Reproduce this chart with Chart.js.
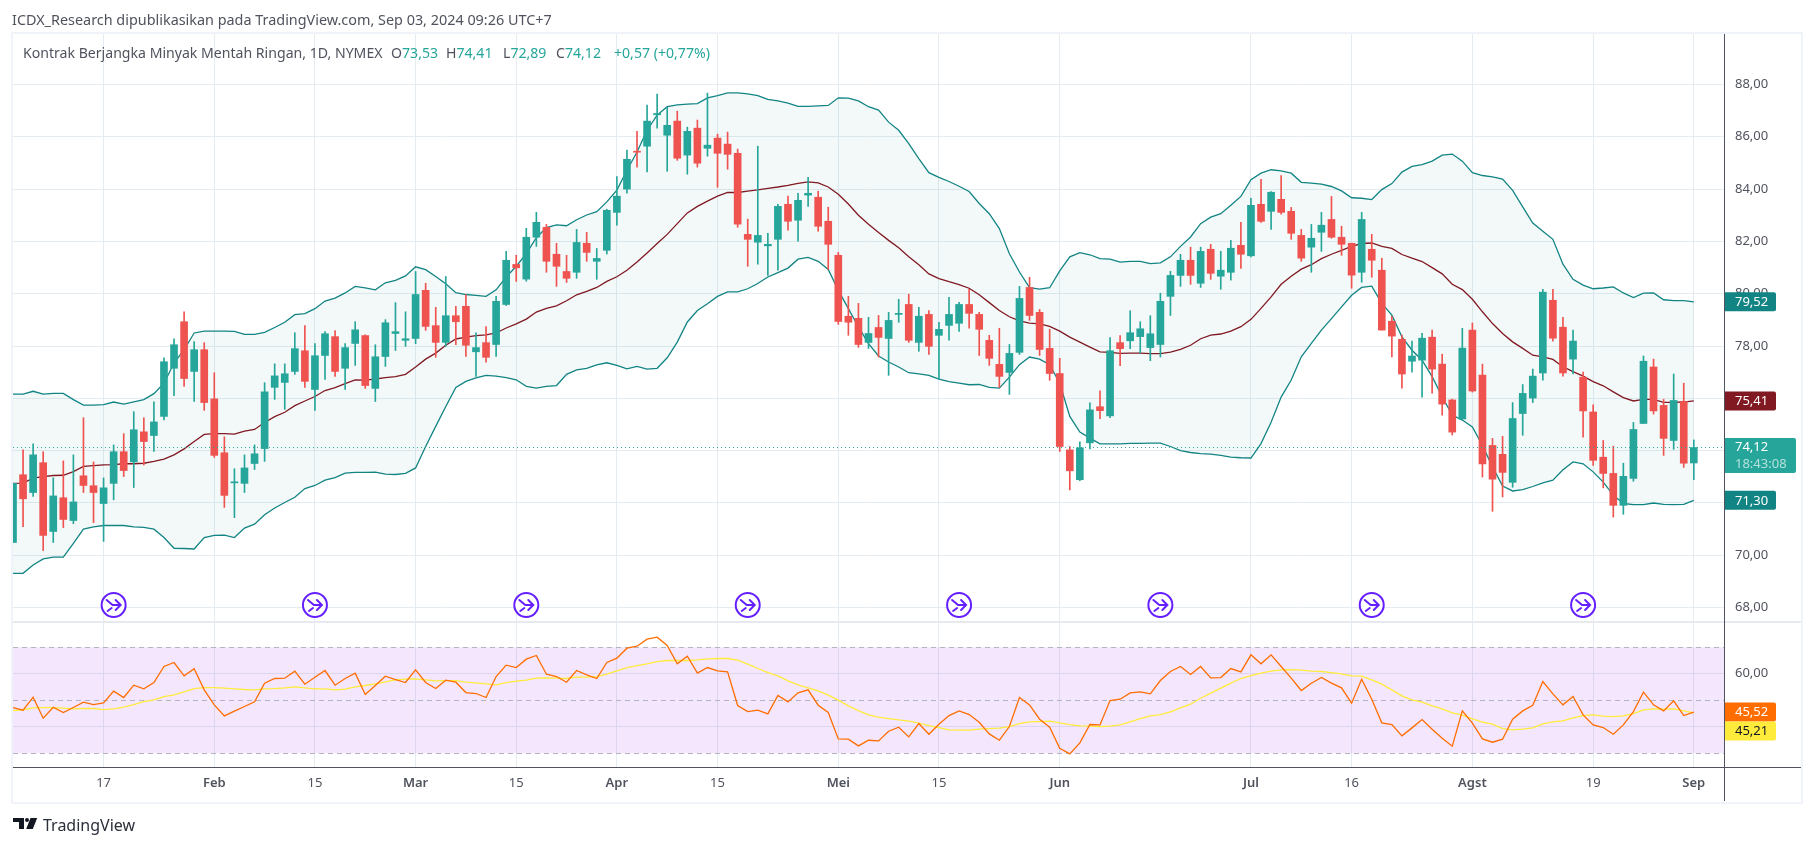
<!DOCTYPE html>
<html>
<head>
<meta charset="utf-8">
<title>CL1! 1D</title>
<script src="https://cdn.jsdelivr.net/npm/chart.js@4"></script>
<style>
    html, body { margin: 0; padding: 0; background: #fff; }
    body { width: 1814px; height: 846px; position: relative; overflow: hidden; font-family: "Noto Sans", sans-serif; }
    canvas { position: absolute; left: 0; }
    #priceChart { top: 0; }
    #rsiChart { top: 622px; }
    .frame { position: absolute; left: 11px; top: 32px; width: 1788px; height: 768px; border: 2px solid #f0f3fa; pointer-events: none; }
    .rule { position: absolute; }
    .text { position: absolute; white-space: pre; line-height: 18px; }
    #publishedBy { left: 12px; top: 11px; font-size: 14.4px; color: #50535e; }
    .legend { top: 44px; font-size: 14.1px; color: #50535e; }
    .legend b { font-weight: 400; color: #26a69a; }
    #brand { left: 43px; top: 816px; font-size: 16px; color: #2a2e39; }
    #logo { position: absolute; left: 13px; top: 818px; }
</style>
</head>
<body>
<canvas id="priceChart" width="1814" height="622"></canvas>
<canvas id="rsiChart" width="1814" height="224"></canvas>
<div class="frame"></div>
<div class="rule" style="left:13px;top:621px;width:1788px;height:2px;background:#e6e9f0"></div>
<div class="rule" style="left:13px;top:767px;width:1788px;height:1px;background:#50535e"></div>
<div class="rule" style="left:1724px;top:34px;width:1px;height:767px;background:#50535e"></div>
<div class="text" id="publishedBy">ICDX_Research dipublikasikan pada TradingView.com, Sep 03, 2024 09:26 UTC+7</div>
<div class="text legend" style="left:23px">Kontrak Berjangka Minyak Mentah Ringan, 1D, NYMEX</div>
<div class="text legend" style="left:391px">O<b>73,53</b></div>
<div class="text legend" style="left:446px">H<b>74,41</b></div>
<div class="text legend" style="left:503px">L<b>72,89</b></div>
<div class="text legend" style="left:556px">C<b>74,12</b></div>
<div class="text legend" style="left:614px"><b>+0,57 (+0,77%)</b></div>
<svg id="logo" width="25" height="12" viewBox="0 0 25 12">
    <path d="M0 0H11V11H6V4H0Z M17.5 0H24.2L19.8 11H13.2Z" fill="#131722"/>
    <circle cx="14" cy="2" r="2" fill="#131722"/>
</svg>
<div class="text" id="brand">TradingView</div>

<script>
// OHLC, one value per daily bar
const opens = [70.49,73.08,72.40,73.54,70.91,72.20,71.33,73.04,72.66,71.98,
    72.75,73.96,73.57,74.72,74.58,75.31,77.15,78.93,77.03,77.86,
    75.98,73.92,72.77,72.75,73.51,74.08,76.42,76.61,77.03,77.82,
    76.34,77.64,78.36,77.15,78.10,78.40,76.38,77.60,78.48,78.22,
    78.29,80.13,78.78,78.14,79.16,79.52,77.78,78.13,78.06,79.59,
    81.12,80.56,82.16,82.54,81.51,80.85,80.82,81.93,81.24,81.66,
    83.11,84.00,85.45,85.64,86.84,86.06,86.60,85.30,86.33,85.56,
    85.95,85.72,85.37,82.27,81.97,81.83,82.08,83.42,82.81,83.77,
    83.69,82.77,81.47,79.14,79.06,78.14,78.71,78.29,79.21,79.59,
    78.14,79.21,78.41,78.79,78.87,79.59,79.21,78.22,77.30,76.99,
    77.76,80.24,79.29,77.91,76.95,74.03,72.89,74.30,75.68,75.33,
    78.13,78.20,78.36,77.94,78.06,79.90,80.70,81.28,80.40,81.70,
    80.67,80.82,81.85,81.45,83.42,83.15,83.61,83.15,82.23,81.78,
    82.35,82.84,82.16,81.93,80.82,81.70,80.90,78.95,78.26,77.42,
    77.46,78.34,77.31,75.94,75.21,78.61,76.89,74.20,73.86,72.79,
    75.42,76.01,76.97,79.75,78.72,77.50,76.81,75.48,73.75,73.13,
    71.91,72.94,75.04,77.20,75.73,74.39,75.88,73.53];
const highs = [72.75,74.03,74.26,73.96,72.96,73.61,73.84,75.26,73.57,72.96,
    74.22,74.65,75.49,75.26,75.87,77.55,78.28,79.31,78.17,78.13,
    76.98,74.53,73.31,73.84,74.22,76.60,77.32,77.32,78.51,78.78,
    78.09,78.55,78.59,78.09,78.93,78.43,78.05,79.01,79.66,79.31,
    80.85,80.40,79.48,80.66,79.52,79.97,78.51,78.74,79.90,81.62,
    81.47,82.50,83.11,82.65,81.93,81.47,82.46,82.35,81.73,83.23,
    84.48,85.49,86.21,87.21,87.63,87.13,86.98,86.37,86.64,87.67,
    86.10,86.18,85.53,82.85,85.64,82.31,83.42,83.73,83.84,84.45,
    83.92,83.31,81.58,79.90,79.63,79.10,79.17,79.29,79.79,79.98,
    79.48,79.36,78.91,79.86,79.67,80.17,79.29,78.41,78.68,78.06,
    80.28,80.63,79.40,78.64,77.53,74.16,74.34,75.83,76.29,78.32,
    78.40,79.35,78.93,79.16,80.02,80.86,81.51,81.78,81.78,81.89,
    81.62,82.04,82.73,83.65,84.37,83.91,84.52,83.30,82.46,82.65,
    83.11,83.72,82.58,81.93,83.11,82.27,81.36,79.14,78.42,78.19,
    78.49,78.61,77.69,75.97,78.68,78.88,77.31,74.47,74.55,75.84,
    76.53,77.12,80.17,80.17,79.10,78.61,77.00,75.75,74.39,74.17,
    73.52,75.08,77.62,77.50,75.96,76.93,76.58,74.41];
const lows = [70.49,71.09,72.25,70.18,70.49,71.06,71.21,72.40,71.25,70.53,
    72.12,73.01,72.59,73.46,73.97,75.18,76.10,76.46,75.88,75.54,
    73.74,71.83,71.44,72.40,73.28,73.59,75.96,75.58,76.92,76.42,
    75.54,76.72,76.84,76.34,77.26,76.38,75.88,77.22,77.83,77.99,
    78.09,78.60,77.57,77.99,78.05,77.60,76.84,77.38,77.60,79.55,
    80.47,80.48,81.81,80.82,80.28,80.43,80.59,81.24,80.55,81.52,
    82.62,83.84,84.84,84.66,86.33,84.68,85.10,84.57,84.84,85.26,
    84.07,84.76,82.54,81.05,81.13,80.70,80.90,82.43,82.01,83.34,
    82.39,80.93,78.83,78.41,77.95,77.91,77.58,76.88,78.91,78.14,
    77.80,77.68,76.72,78.22,78.56,78.68,77.64,77.26,76.42,76.15,
    77.68,78.98,77.64,76.69,73.97,72.50,72.85,74.07,75.22,75.26,
    77.25,77.90,77.73,77.44,77.58,79.17,80.28,80.36,80.24,80.55,
    80.17,80.52,80.97,81.41,82.73,82.46,83.04,82.08,81.24,80.82,
    81.62,82.12,81.47,80.21,80.44,80.63,78.61,77.58,76.39,77.00,
    76.05,76.20,75.36,74.60,75.21,76.24,72.99,71.68,72.23,72.60,
    74.59,75.84,76.70,78.19,76.85,76.93,74.52,73.44,72.58,71.46,
    71.57,72.83,75.04,75.40,73.82,74.05,73.36,72.89];
const closes = [72.75,72.16,73.84,70.76,72.27,71.37,72.04,72.67,72.40,72.58,
    73.96,73.24,74.80,74.35,75.10,77.40,78.05,76.76,77.86,75.84,
    73.82,72.29,72.81,73.34,73.88,76.25,76.86,76.94,77.90,76.65,
    77.63,78.47,77.03,77.94,78.62,76.49,77.59,78.89,78.55,78.28,
    79.97,78.75,78.14,79.16,78.93,78.03,77.94,77.57,79.71,81.28,
    80.99,82.16,82.73,81.24,81.05,80.59,81.96,81.58,81.35,83.19,
    83.73,85.14,85.41,86.60,86.89,86.44,85.18,86.21,84.99,85.68,
    85.37,85.33,82.66,82.08,82.23,81.89,83.34,82.77,83.57,83.84,
    82.58,81.89,78.94,78.91,78.06,78.48,78.33,78.98,79.25,78.22,
    79.14,77.99,78.64,79.21,79.59,79.25,78.64,77.53,76.84,77.72,
    79.82,79.17,77.87,76.95,74.16,73.23,74.11,75.56,75.53,77.82,
    77.90,78.51,78.66,78.47,79.71,80.70,81.28,80.70,81.62,80.78,
    80.90,81.74,81.51,83.38,82.77,83.88,83.11,82.31,81.36,82.12,
    82.62,82.16,81.89,80.71,82.84,81.28,78.61,78.38,76.93,77.62,
    78.30,77.12,75.78,74.71,77.92,76.28,73.49,72.91,73.17,75.23,
    76.19,76.85,80.06,78.30,76.97,78.19,75.52,73.63,73.13,71.91,
    73.02,74.81,77.42,75.52,74.47,75.92,73.52,74.12];

// Bollinger bands
const bbUpper = [76.16,76.16,76.27,76.16,76.19,76.19,75.95,75.74,75.74,75.76,
    75.86,75.78,75.87,75.95,76.18,76.58,77.35,77.86,78.50,78.57,
    78.57,78.57,78.56,78.45,78.45,78.52,78.71,78.91,79.20,79.24,
    79.43,79.72,79.83,80.03,80.28,80.22,80.15,80.42,80.51,80.68,
    81.03,80.92,80.66,80.38,80.04,79.97,79.94,79.90,80.15,80.64,
    81.05,81.53,82.14,82.53,82.63,82.60,82.83,83.01,83.14,83.51,
    83.96,84.72,85.42,86.25,86.83,87.15,87.22,87.25,87.27,87.49,
    87.57,87.68,87.68,87.64,87.57,87.43,87.37,87.29,87.16,87.16,
    87.18,87.20,87.49,87.48,87.37,87.15,87.02,86.56,86.25,85.74,
    85.17,84.63,84.45,84.29,84.11,83.91,83.45,83.06,82.49,81.53,
    80.83,80.23,80.18,80.23,80.87,81.41,81.57,81.49,81.34,81.32,
    81.21,81.24,81.24,81.15,81.18,81.41,81.81,82.17,82.68,82.93,
    83.06,83.38,83.72,84.36,84.61,84.74,84.70,84.61,84.26,84.23,
    84.19,84.10,83.93,83.67,83.65,83.60,83.98,84.21,84.65,84.87,
    84.94,85.07,85.30,85.34,85.07,84.63,84.52,84.47,84.38,83.95,
    83.32,82.70,82.39,82.08,81.13,80.55,80.33,80.19,80.22,80.26,
    80.03,79.85,80.02,80.03,79.77,79.74,79.74,79.69];
const bbBasis = [72.75,72.76,72.95,73.01,73.05,73.06,73.20,73.40,73.43,73.46,
    73.47,73.50,73.50,73.52,73.59,73.68,73.84,74.07,74.35,74.62,
    74.65,74.65,74.63,74.75,74.81,75.08,75.30,75.47,75.72,75.90,
    76.07,76.30,76.41,76.56,76.71,76.70,76.74,76.79,76.83,76.92,
    77.20,77.50,77.73,78.03,78.27,78.34,78.40,78.43,78.50,78.69,
    78.85,79.03,79.30,79.44,79.54,79.73,79.96,80.09,80.24,80.47,
    80.65,80.90,81.21,81.56,81.92,82.27,82.68,83.09,83.34,83.54,
    83.73,83.87,83.87,83.92,83.97,84.03,84.08,84.14,84.22,84.28,
    84.24,84.08,83.80,83.43,83.00,82.66,82.34,82.04,81.76,81.41,
    81.11,80.76,80.58,80.46,80.35,80.21,79.96,79.66,79.36,79.12,
    78.96,78.88,78.85,78.75,78.57,78.34,78.15,77.96,77.78,77.76,
    77.72,77.73,77.73,77.71,77.71,77.77,77.87,78.03,78.28,78.42,
    78.46,78.57,78.74,79.02,79.44,79.88,80.36,80.67,80.94,81.11,
    81.34,81.51,81.66,81.81,81.92,81.94,81.81,81.73,81.50,81.36,
    81.23,81.00,80.76,80.36,80.16,79.79,79.31,78.86,78.48,78.16,
    77.91,77.65,77.59,77.49,77.21,77.02,76.85,76.64,76.48,76.25,
    76.03,75.90,75.96,75.96,75.85,75.85,75.86,75.90];
const bbLower = [69.31,69.31,69.63,69.86,69.93,69.93,70.46,71.00,71.09,71.14,
    71.14,71.14,71.09,71.07,71.00,70.68,70.27,70.26,70.24,70.68,
    70.76,70.77,70.68,71.04,71.19,71.55,71.81,72.02,72.22,72.55,
    72.67,72.87,72.97,73.14,73.17,73.17,73.18,73.10,73.09,73.13,
    73.34,74.16,74.93,75.69,76.42,76.65,76.78,76.88,76.85,76.79,
    76.71,76.46,76.39,76.46,76.49,76.92,77.09,77.15,77.28,77.36,
    77.26,77.13,77.22,77.12,77.15,77.55,78.15,78.92,79.36,79.62,
    79.90,80.07,80.07,80.19,80.39,80.64,80.81,80.98,81.32,81.39,
    81.24,80.93,80.13,79.43,78.73,78.09,77.62,77.39,77.20,76.98,
    76.94,76.88,76.74,76.64,76.58,76.52,76.53,76.42,76.39,76.81,
    77.29,77.58,77.50,77.29,76.58,75.31,74.71,74.48,74.26,74.26,
    74.26,74.28,74.28,74.29,74.29,74.16,74.00,73.93,73.89,73.87,
    73.82,73.75,73.73,73.72,74.27,75.09,76.05,76.70,77.59,78.10,
    78.61,79.05,79.50,79.94,80.24,80.29,79.63,79.18,78.35,77.84,
    77.46,76.83,76.06,75.36,75.17,74.91,74.20,73.38,72.65,72.46,
    72.51,72.63,72.77,72.87,73.27,73.57,73.50,73.19,72.80,72.30,
    71.98,71.94,71.94,72.00,71.95,71.94,71.95,72.10];

// RSI pane
const rsiValues = [47.23,46.23,51.13,43.21,47.36,45.35,47.23,49.25,48.36,48.99,
    53.40,51.01,55.66,54.28,56.67,62.71,64.22,59.18,61.83,53.90,
    48.24,44.09,45.85,47.61,49.37,56.42,58.18,58.30,60.94,56.04,
    58.68,61.20,55.66,58.18,60.19,52.14,55.54,59.06,57.80,56.67,
    61.45,56.67,54.40,57.55,56.79,52.89,52.52,51.01,58.93,63.21,
    62.33,65.47,66.86,59.81,58.93,56.79,61.20,59.56,58.18,64.22,
    65.85,69.62,70.38,73.02,73.78,70.63,63.71,66.61,60.19,62.33,
    61.07,60.69,47.99,45.72,46.23,44.84,51.76,49.37,52.77,53.90,
    48.11,45.35,35.41,35.28,32.77,34.90,34.65,38.30,39.81,36.16,
    41.19,37.17,40.94,44.21,45.97,44.59,41.70,37.29,34.90,40.06,
    51.01,48.24,42.83,39.81,31.88,29.75,33.90,40.82,40.69,49.87,
    50.38,52.77,53.15,52.39,57.42,60.82,62.71,59.69,62.71,58.43,
    58.55,61.95,60.69,67.11,63.71,67.11,62.71,58.30,53.65,56.42,
    58.55,56.42,54.65,48.87,57.92,50.38,41.45,40.82,36.54,39.56,
    42.70,39.06,35.66,32.64,45.97,41.32,35.41,34.15,35.28,42.83,
    45.97,48.11,57.04,52.39,48.24,51.38,44.46,40.69,39.68,37.17,
    40.69,45.72,53.02,48.24,45.97,49.75,44.21,45.52];
const rsiMa = [46.10,46.35,47.11,47.23,47.23,46.98,46.73,46.86,46.86,46.48,
    46.73,47.36,48.36,49.50,50.13,51.38,52.01,53.15,54.40,54.78,
    54.78,54.53,54.28,54.03,53.90,54.28,54.40,54.65,55.03,54.65,
    54.28,54.28,53.90,54.15,55.03,55.54,56.16,56.92,57.67,57.93,
    58.05,57.67,57.30,57.42,57.42,56.79,56.54,56.16,55.79,56.67,
    57.17,57.55,58.30,58.43,58.30,58.18,58.68,58.68,58.93,59.81,
    61.07,62.33,63.08,63.71,64.59,64.97,64.97,64.97,65.22,65.60,
    65.73,65.73,65.10,63.59,61.95,60.44,59.18,57.30,55.79,54.65,
    53.52,51.89,50.00,47.86,46.10,44.46,43.58,43.08,42.58,42.07,
    41.32,40.44,39.68,38.80,38.68,38.68,39.06,39.31,39.43,40.06,
    41.19,41.82,41.95,42.07,41.45,40.82,40.31,40.19,40.06,40.19,
    40.69,41.82,43.08,44.09,44.59,45.60,47.11,48.49,50.75,52.64,
    54.53,56.42,58.18,59.31,60.19,60.94,61.45,61.57,61.32,60.94,
    60.82,60.44,59.94,59.18,59.06,57.67,56.04,53.90,51.64,50.13,
    49.25,47.86,46.73,45.22,44.34,42.95,41.70,40.94,39.31,38.80,
    39.06,39.56,41.07,41.82,42.20,43.33,44.21,44.46,43.96,43.84,
    44.09,44.97,46.35,46.73,46.60,46.73,45.97,45.21];

// axis ticks
const tickBars = [9, 20, 30, 40, 50, 60, 70, 82, 92, 104, 123, 133, 145, 157, 167];
const tickNames = ['17', 'Feb', '15', 'Mar', '15', 'Apr', '15', 'Mei', '15', 'Jun', 'Jul', '16', 'Agst', '19', 'Sep'];
const priceTicks = [68, 70, 72, 74, 76, 78, 80, 82, 84, 86, 88];
const rsiTicks = [40, 60];
const rsiDashed = [70, 50, 30];
const dividendBars = [10, 30, 51, 73, 94, 114, 135, 156];

// labels shown in the price tags (these come from the picture, not from the arrays)
const bbTagText = ['79,52', '75,41', '71,30'];
const lastPriceText = '74,12';
const countdownText = '18:43:08';
const rsiTagText = ['45,52', '45,21'];

const EMPTY_BARS = 3; // free room before the price axis
const UP = '#26a69a', DOWN = '#ef5350', BB = '#138484', BASIS = '#801922', RSI = '#ff6d00', RSI_MA = '#ffeb3b';
const GRID = '#e4ecf2', AXIS_TEXT = '#50535e';
const FONT = '"Noto Sans", sans-serif';

const categories = [];
for (let i = 0; i < closes.length + EMPTY_BARS; i++) {
    const t = tickBars.indexOf(i);
    categories.push(t >= 0 ? tickNames[t] : '');
}
const barColors = closes.map((c, i) => (c >= opens[i] ? UP : DOWN));
const fmt = v => v.toFixed(2).replace('.', ',');

function xScale(showLabels) {
    return {
        type: 'category',
        offset: false,
        afterBuildTicks: s => { s.ticks = tickBars.map(v => ({ value: v })); },
        grid: { color: GRID, offset: false, drawTicks: false },
        border: { display: false },
        afterFit: s => { s.height = showLabels ? 34 : 0; s.paddingLeft = 0; s.paddingRight = 0; },
        ticks: {
            display: showLabels,
            autoSkip: false,
            maxRotation: 0,
            padding: 8,
            color: AXIS_TEXT,
            font: ctx => ({
                family: FONT,
                size: 13,
                weight: ctx.tick && /[A-Za-z]/.test(categories[ctx.tick.value]) ? '600' : '400'
            })
        }
    };
}

function yScale(min, max, ticks, labelled) {
    return {
        position: 'right',
        min: min,
        max: max,
        afterBuildTicks: s => { s.ticks = ticks.map(v => ({ value: v })); },
        // the axis would otherwise reserve room for half a label above and below the pane
        afterFit: s => { s.width = 77; s.paddingTop = 0; s.paddingBottom = 0; },
        grid: { color: GRID, drawTicks: false },
        border: { display: false },
        ticks: {
            padding: 11,
            color: AXIS_TEXT,
            font: { family: FONT, size: 13 },
            callback: v => (labelled.includes(v) ? fmt(v) : '')
        }
    };
}

// value tag on the price axis
function drawTag(ctx, area, centerY, width, height, color, lines) {
    const x = area.right + 1, top = centerY - height / 2;
    ctx.save();
    ctx.fillStyle = color;
    ctx.beginPath();
    ctx.roundRect(x, top, width, height, [0, 2, 2, 0]);
    ctx.fill();
    ctx.textBaseline = 'middle';
    ctx.font = '13px ' + FONT;
    lines.forEach(l => {
        ctx.fillStyle = l.color;
        ctx.fillText(l.text, x + 10, top + l.dy);
    });
    ctx.restore();
}

function drawDividendIcon(ctx, px, py) {
    ctx.save();
    ctx.translate(px, py);
    ctx.strokeStyle = '#651fff';
    ctx.lineWidth = 2;
    ctx.lineCap = 'round';
    ctx.fillStyle = '#fff';
    ctx.beginPath();
    ctx.arc(0, 0, 12, 0, Math.PI * 2);
    ctx.fill();
    ctx.stroke();
    ctx.beginPath();
    ctx.moveTo(-7, -5); ctx.lineTo(-1, 0); ctx.lineTo(7, 0);
    ctx.moveTo(2, -5); ctx.lineTo(7, 0); ctx.lineTo(2, 5);
    ctx.moveTo(-6, 6); ctx.lineTo(-2, 3);
    ctx.stroke();
    ctx.restore();
}

const priceOverlay = {
    id: 'priceOverlay',
    afterDatasetsDraw(chart) {
        const { ctx, chartArea: area, scales: { x, y } } = chart;
        const last = closes.length - 1;
        // last price line
        ctx.save();
        ctx.strokeStyle = UP;
        ctx.lineWidth = 1;
        ctx.setLineDash([1, 3]);
        ctx.beginPath();
        ctx.moveTo(area.left, y.getPixelForValue(closes[last]));
        ctx.lineTo(area.right, y.getPixelForValue(closes[last]));
        ctx.stroke();
        ctx.restore();
        dividendBars.forEach(i => drawDividendIcon(ctx, x.getPixelForValue(i), y.getPixelForValue(68.1)));
    },
    afterDraw(chart) {
        const { ctx, chartArea: area, scales: { y } } = chart;
        const last = closes.length - 1;
        [[bbUpper, BB], [bbBasis, BASIS], [bbLower, BB]].forEach((s, n) => {
            drawTag(ctx, area, y.getPixelForValue(s[0][last]), 51, 19, s[1],
                [{ text: bbTagText[n], color: '#fff', dy: 10 }]);
        });
        drawTag(ctx, area, y.getPixelForValue(closes[last]) + 8, 71, 35, UP, [
            { text: lastPriceText, color: '#fff', dy: 9 },
            { text: countdownText, color: 'rgba(255,255,255,.65)', dy: 26 }
        ]);
    }
};

const rsiOverlay = {
    id: 'rsiOverlay',
    beforeDatasetsDraw(chart) {
        const { ctx, chartArea: area, scales: { y } } = chart;
        const top = y.getPixelForValue(rsiDashed[0]), bottom = y.getPixelForValue(rsiDashed[2]);
        ctx.save();
        ctx.fillStyle = 'rgba(156,39,233,.115)';
        ctx.fillRect(area.left, top, area.right - area.left, bottom - top);
        ctx.strokeStyle = '#b2b5be';
        ctx.lineWidth = 1;
        ctx.setLineDash([5, 4]);
        rsiDashed.forEach(v => {
            const py = Math.round(y.getPixelForValue(v)) + 0.5;
            ctx.beginPath();
            ctx.moveTo(area.left, py);
            ctx.lineTo(area.right, py);
            ctx.stroke();
        });
        ctx.restore();
    },
    afterDraw(chart) {
        const { ctx, chartArea: area, scales: { y } } = chart;
        const tagY = y.getPixelForValue(rsiValues[rsiValues.length - 1]);
        drawTag(ctx, area, tagY, 51, 19, RSI, [{ text: rsiTagText[0], color: '#fff', dy: 10 }]);
        drawTag(ctx, area, tagY + 19, 51, 19, RSI_MA, [{ text: rsiTagText[1], color: '#131722', dy: 10 }]);
    }
};

function lineSet(data, color, width, order) {
    return { type: 'line', data: data, borderColor: color, borderWidth: width, pointRadius: 0, tension: 0, order: order };
}

const priceDatasets = [
    Object.assign(lineSet(bbUpper, BB, 1.3, 5), { fill: { target: 2 }, backgroundColor: 'rgba(34,150,150,.055)' }),
    lineSet(bbBasis, BASIS, 1.3, 4),
    lineSet(bbLower, BB, 1.3, 3),
    {
        data: lows.map((l, i) => [l, highs[i]]),
        backgroundColor: barColors,
        barThickness: 1,
        grouped: false,
        order: 2
    },
    {
        data: opens.map((o, i) => [o, closes[i]]),
        backgroundColor: barColors,
        barThickness: 7,
        grouped: false,
        order: 1
    }
];

const baseOptions = {
    responsive: false,
    animation: false,
    devicePixelRatio: 1,
    plugins: { legend: { display: false }, tooltip: { enabled: false } }
};

new Chart(document.getElementById('priceChart').getContext('2d'), {
    type: 'bar',
    data: { labels: categories, datasets: priceDatasets },
    plugins: [priceOverlay],
    options: Object.assign({}, baseOptions, {
        layout: { padding: { left: 13, right: 13, top: 34, bottom: 0 } },
        scales: {
            x: xScale(false),
            y: yScale(67.45, 89.93, priceTicks, priceTicks)
        }
    })
});

new Chart(document.getElementById('rsiChart').getContext('2d'), {
    type: 'line',
    data: {
        labels: categories,
        datasets: [lineSet(rsiMa, RSI_MA, 1.3, 2), lineSet(rsiValues, RSI, 1.3, 1)]
    },
    plugins: [rsiOverlay],
    options: Object.assign({}, baseOptions, {
        layout: { padding: { left: 13, right: 13, top: 0, bottom: 45 } },
        scales: {
            x: xScale(true),
            y: yScale(24.8, 79.5, rsiTicks, [60])
        }
    })
});
</script>
</body>
</html>
